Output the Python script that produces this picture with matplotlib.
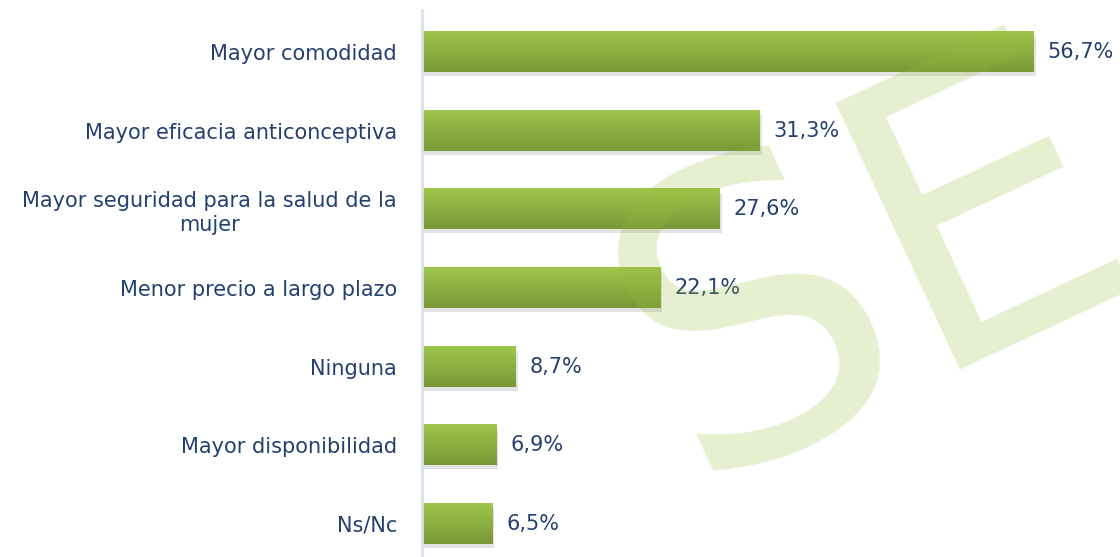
import numpy as np
import matplotlib.pyplot as plt
from matplotlib.colors import LinearSegmentedColormap
import matplotlib.transforms as mtransforms

categories = ["Mayor comodidad", "Mayor eficacia anticonceptiva",
              "Mayor seguridad para la salud de la\nmujer",
              "Menor precio a largo plazo", "Ninguna",
              "Mayor disponibilidad", "Ns/Nc"]
values = [56.7, 31.3, 27.6, 22.1, 8.7, 6.9, 6.5]
value_labels = ["56,7%", "31,3%", "27,6%", "22,1%", "8,7%", "6,9%", "6,5%"]


def main():
    fig = plt.figure(figsize=(11.2, 5.57), dpi=100)
    ax = fig.add_axes([422 / 1120, 0, 1 - 422 / 1120, 547 / 557])

    y = np.arange(len(categories))
    h = 0.51
    txt_color = "#23406e"

    # watermark
    fig.text(0.781, 0.508, "SE", fontsize=290, color="#9bbb3c", alpha=0.24,
             rotation=25, rotation_mode="anchor", ha="center", va="center",
             family="DejaVu Sans", zorder=5)

    # shadow
    shadow = mtransforms.offset_copy(ax.transData, fig=fig, x=2, y=-4, units="dots")
    ax.barh(y, values, height=h, color="#808080", alpha=0.22, transform=shadow,
            zorder=1)

    cmap = LinearSegmentedColormap.from_list("g", ["#799837", "#9fc54b"])
    grad = np.linspace(0, 1, 100).reshape(-1, 1)
    for yi, v in zip(y, values):
        ax.imshow(grad, cmap=cmap, aspect="auto", origin="lower",
                  extent=(0, v, yi + h / 2, yi - h / 2), zorder=2)

    for yi, v, lab in zip(y, values, value_labels):
        ax.text(v + 1.3, yi, lab, va="center", ha="left", fontsize=15,
                color=txt_color, family="DejaVu Sans")

    ax.set_xlim(0, (1120 - 422) / 10.79)
    ax.set_ylim(6.42, -0.534)
    ax.set_yticks(y)
    ax.set_yticklabels(categories, fontsize=15, color=txt_color,
                       family="DejaVu Sans", multialignment="center")
    ax.tick_params(axis="y", length=0, pad=18)
    ax.set_xticks([])
    for s in ["top", "right", "bottom"]:
        ax.spines[s].set_visible(False)
    ax.spines["left"].set_color("#d6e2f0")
    ax.spines["left"].set_linewidth(2)

    fig.savefig("out.png", dpi=100)


if __name__ == '__main__':
    main()
